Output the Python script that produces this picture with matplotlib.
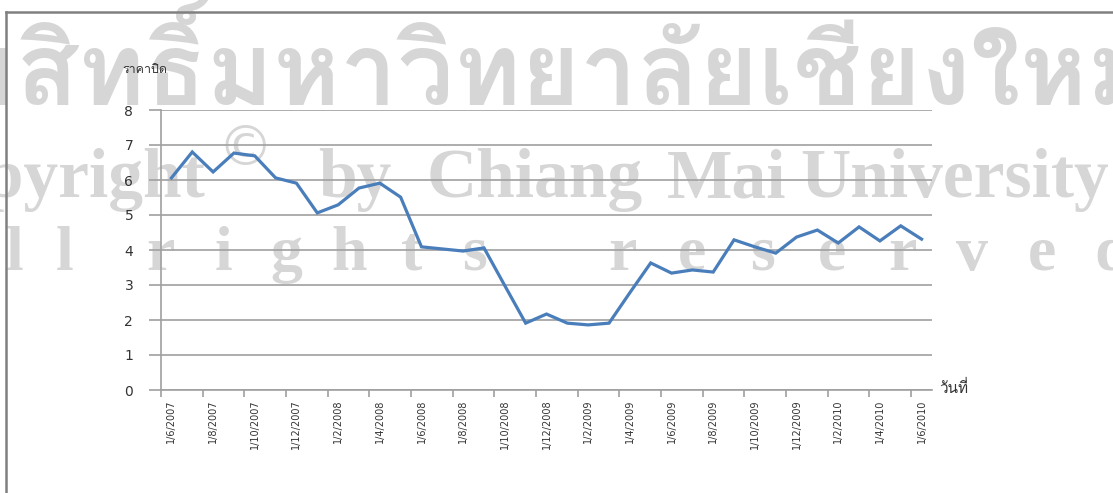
import numpy as np
import matplotlib
matplotlib.use('Agg')
from matplotlib import pyplot as plt
from matplotlib import font_manager
from matplotlib.ft2font import FT2Font
from matplotlib.lines import Line2D

# ราคาปิดรายเดือน 1/6/2007 - 1/6/2010
close_price = [6.06, 6.80, 6.23, 6.77, 6.69, 6.06, 5.91, 5.06, 5.29, 5.77,
               5.91, 5.51, 4.09, 4.03, 3.97, 4.06, 2.98, 1.91, 2.17, 1.91,
               1.86, 1.91, 2.78, 3.63, 3.34, 3.43, 3.37, 4.29, 4.09, 3.91,
               4.37, 4.57, 4.20, 4.66, 4.26, 4.69, 4.31]
date_labels = ['1/6/2007', '1/8/2007', '1/10/2007', '1/12/2007', '1/2/2008',
               '1/4/2008', '1/6/2008', '1/8/2008', '1/10/2008', '1/12/2008',
               '1/2/2009', '1/4/2009', '1/6/2009', '1/8/2009', '1/10/2009',
               '1/12/2009', '1/2/2010', '1/4/2010', '1/6/2010']
y_ticks = [0, 1, 2, 3, 4, 5, 6, 7, 8]
y_title = 'ราคาปิด'
x_title = 'วันที่'


# หาฟอนต์ที่มีอักษรไทย
def find_font(ch):
    for f in font_manager.fontManager.ttflist:
        try:
            if ord(ch) in FT2Font(f.fname).get_charmap():
                return f.name
        except Exception:
            pass
    return 'DejaVu Sans'

thai_font = find_font('ร')

W, H = 1113, 493
fig = plt.figure(figsize=(W / 100, H / 100), dpi=100)

def fx(x):
    return x / W

def fy(y):
    return 1 - y / H

# watermark (behind chart)
wm = '#d6d6d6'
fig.text(fx(1155), fy(105), 'ลิขสิทธิ์มหาวิทยาลัยเชียงใหม่', ha='right', va='baseline',
         fontsize=73, color=wm, family=[thai_font, 'DejaVu Sans'], fontweight='bold', zorder=-1)
fig.text(fx(205), fy(197), 'Copyright', ha='right', va='baseline', fontsize=50,
         color=wm, family='Liberation Serif', fontweight='bold', zorder=-1)
fig.text(fx(245), fy(150), '©', ha='center', va='center', fontsize=40,
         color=wm, family='DejaVu Sans', zorder=-1)
for word, x0 in [('by', 318), ('Chiang', 427), ('Mai', 667), ('University', 800)]:
    fig.text(fx(x0), fy(197), word, ha='left', va='baseline', fontsize=50,
             color=wm, family='Liberation Serif', fontweight='bold', zorder=-1)
for word, x0, step in [('All', -35, 50), ('rights', 160, 63), ('reserved', 622, 70)]:
    for i, ch in enumerate(word):
        fig.text(fx(x0 + i * step), fy(270), ch, ha='center', va='baseline', fontsize=46,
                 color=wm, family='Liberation Serif', fontweight='bold', zorder=-1)

# outer frame
fig.add_artist(Line2D([fx(6), fx(W)], [fy(12), fy(12)], color='#808080', lw=1.8))
fig.add_artist(Line2D([fx(6), fx(6)], [fy(12), fy(H)], color='#808080', lw=1.8))

ax = fig.add_axes([fx(161), fy(390), (932 - 161) / W, 280 / H])
ax.set_facecolor('none')

x = np.arange(len(close_price))
ax.plot(x, close_price, color='#4a7ebb', lw=2.3, solid_joinstyle='miter', zorder=3)

grid = '#a0a0a0'
ax.set_xlim(-0.5, len(close_price) - 0.5)
ax.set_ylim(0, 8)
ax.set_yticks(y_ticks)
ax.yaxis.grid(True, color=grid, lw=1.2)
ax.set_axisbelow(True)
ax.set_xticks(np.arange(-0.5, len(close_price) - 1, 2))
ax.set_xticklabels([])
ax.set_xticks(np.arange(0, len(close_price), 2), minor=True)
ax.set_xticklabels(date_labels, minor=True, rotation=90, fontsize=7, color='#333333')
ax.tick_params(axis='x', which='major', length=5, color=grid, width=1.2)
ax.tick_params(axis='x', which='minor', length=0, pad=7)
ax.tick_params(axis='y', length=9, color=grid, width=1.2, pad=11, labelsize=10, labelcolor='#333333')
for s in ['top', 'right']:
    ax.spines[s].set_visible(False)
for s in ['left', 'bottom']:
    ax.spines[s].set_color(grid)
    ax.spines[s].set_linewidth(1.2)

fig.text(fx(122), fy(70), y_title, ha='left', va='center', fontsize=9,
         family=[thai_font, 'DejaVu Sans'], color='#333333')
fig.text(fx(939), fy(388), x_title, ha='left', va='center', fontsize=11,
         family=[thai_font, 'DejaVu Sans'], color='#333333')

fig.savefig('out.png', dpi=100)
